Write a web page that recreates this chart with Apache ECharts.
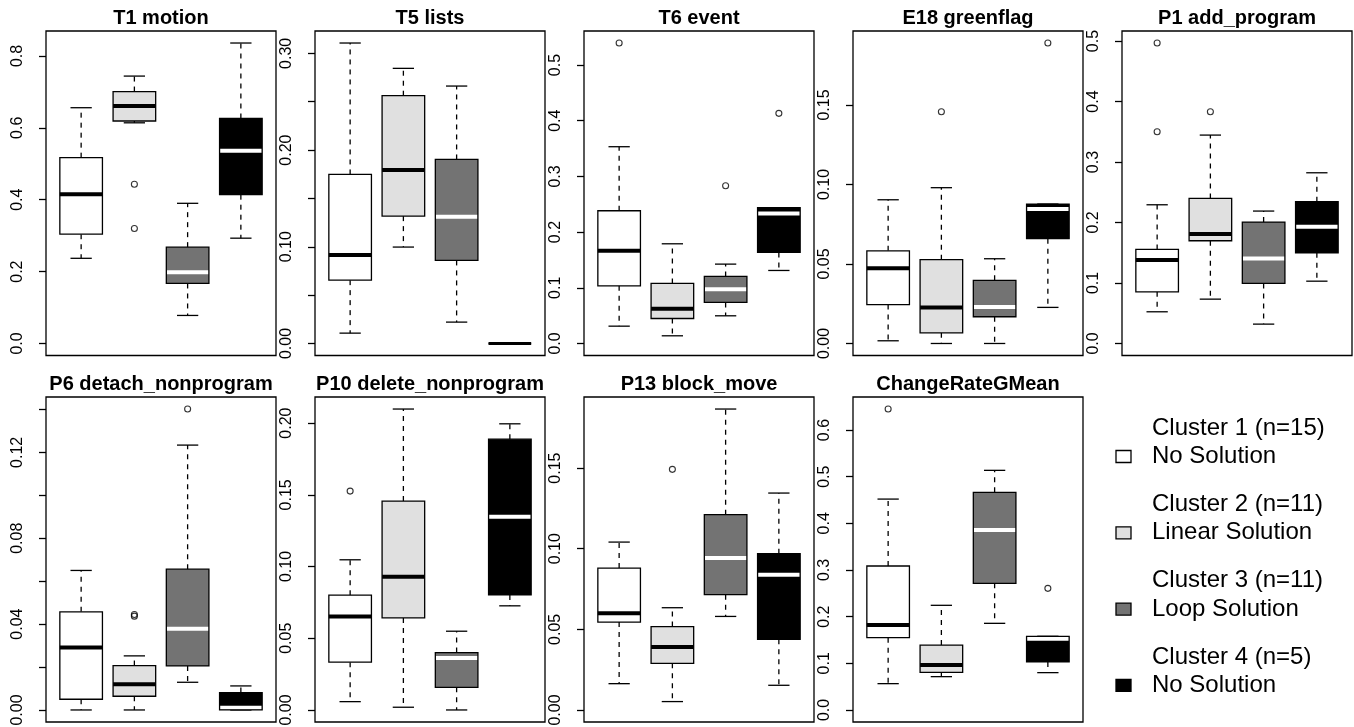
<!DOCTYPE html>
<html>
<head>
<meta charset="utf-8">
<script src="https://cdn.jsdelivr.net/npm/echarts@6/dist/echarts.min.js"></script>
<style>
html,body{margin:0;padding:0;background:#fff;}
#chart{width:1354px;height:727px;}
</style>
</head>
<body>
<div id="chart"></div>
<script>
// ---------- data ----------
const clusterNames = ['Cluster 1 (n=15)', 'Cluster 2 (n=11)', 'Cluster 3 (n=11)', 'Cluster 4 (n=5)'];
const clusterSolutions = ['No Solution', 'Linear Solution', 'Loop Solution', 'No Solution'];
const panelTitles = ['T1 motion', 'T5 lists', 'T6 event', 'E18 greenflag', 'P1 add_program',
  'P6 detach_nonprogram', 'P10 delete_nonprogram', 'P13 block_move', 'ChangeRateGMean'];

// each box: [lower whisker, Q1, median, Q3, upper whisker]; outliers: [cluster, value]
const t1Motion = [[0.237,0.304,0.415,0.517,0.656],[0.614,0.619,0.661,0.701,0.744],[0.078,0.167,0.198,0.268,0.390],[0.293,0.414,0.536,0.626,0.836]];
const t1MotionOut = [[2,0.443],[2,0.320]];
const t1MotionTicks = [0,0.2,0.4,0.6,0.8];
const t1MotionLabels = ['0.0','0.2','0.4','0.6','0.8'];

const t5Lists = [[0.0107,0.0655,0.0914,0.1748,0.3107],[0.0997,0.1317,0.1793,0.2562,0.2845],[0.0221,0.0859,0.1310,0.1903,0.2662],[0,0,0,0,0]];
const t5ListsOut = [];
const t5ListsTicks = [0,0.05,0.10,0.15,0.20,0.25,0.30];
const t5ListsLabels = ['0.00','0.10','0.20','0.30'];

const t6Event = [[0.0311,0.1036,0.1665,0.2383,0.3533],[0.0138,0.0449,0.0623,0.1078,0.179],[0.0497,0.0737,0.0976,0.1204,0.1425],[0.1311,0.1635,0.2335,0.2437,0.2437]];
const t6EventOut = [[1,0.5395],[3,0.2832],[4,0.4132]];
const t6EventTicks = [0,0.1,0.2,0.3,0.4,0.5];
const t6EventLabels = ['0.0','0.1','0.2','0.3','0.4','0.5'];

const e18Greenflag = [[0.0017,0.0245,0.0474,0.0583,0.0904],[0,0.0067,0.0227,0.0527,0.098],[0,0.0168,0.0229,0.0397,0.0533],[0.0227,0.0659,0.0846,0.0877,0.0877]];
const e18GreenflagOut = [[2,0.1458],[4,0.189]];
const e18GreenflagTicks = [0,0.05,0.10,0.15];
const e18GreenflagLabels = ['0.00','0.05','0.10','0.15'];

const p1AddProgram = [[0.0524,0.0854,0.1378,0.1555,0.2293],[0.0733,0.1698,0.1808,0.2398,0.3445],[0.032,0.0992,0.1406,0.2007,0.2189],[0.103,0.150,0.1929,0.2343,0.2822]];
const p1AddProgramOut = [[1,0.4967],[1,0.350],[2,0.3831]];
const p1AddProgramTicks = [0,0.1,0.2,0.3,0.4,0.5];
const p1AddProgramLabels = ['0.0','0.1','0.2','0.3','0.4','0.5'];

const p6Detach = [[0,0.005,0.0291,0.0457,0.065],[0,0.0064,0.012,0.0207,0.0252],[0.0129,0.0205,0.0378,0.0656,0.1234],[0,0,0.001,0.0081,0.0112]];
const p6DetachOut = [[2,0.0445],[2,0.0437],[3,0.1402]];
const p6DetachTicks = [0,0.02,0.04,0.06,0.08,0.10,0.12,0.14];
const p6DetachLabels = ['0.00','0.04','0.08','0.12'];

const p10Delete = [[0.0058,0.0333,0.0651,0.080,0.1047],[0.0019,0.0642,0.0928,0.1456,0.2098],[0,0.0158,0.0363,0.040,0.0549],[0.0726,0.0802,0.1347,0.1888,0.1995]];
const p10DeleteOut = [[1,0.1526]];
const p10DeleteTicks = [0,0.05,0.10,0.15,0.20];
const p10DeleteLabels = ['0.00','0.05','0.10','0.15','0.20'];

const p13BlockMove = [[0.0163,0.0545,0.0599,0.088,0.1041],[0.0052,0.0289,0.039,0.0517,0.0634],[0.058,0.0715,0.0942,0.1211,0.1866],[0.0153,0.0438,0.0839,0.0969,0.1345]];
const p13BlockMoveOut = [[2,0.1492]];
const p13BlockMoveTicks = [0,0.05,0.10,0.15];
const p13BlockMoveLabels = ['0.00','0.05','0.10','0.15'];

const changeRate = [[0.0564,0.155,0.182,0.3086,0.452],[0.0714,0.0807,0.0964,0.139,0.2243],[0.1857,0.2714,0.3857,0.4664,0.5136],[0.08,0.1029,0.1529,0.1579,0.1579]];
const changeRateOut = [[1,0.645],[4,0.2607]];
const changeRateTicks = [0,0.1,0.2,0.3,0.4,0.5,0.6];
const changeRateLabels = ['0.0','0.1','0.2','0.3','0.4','0.5','0.6'];

// ---------- styles / layout ----------
const fillColors = ['#ffffff', '#e0e0e0', '#737373', '#000000'];
const medianColors = ['#000000', '#000000', '#ffffff', '#ffffff'];
const FONT = '"Liberation Sans", Arial, Helvetica, sans-serif';

const panels = [
  [t1Motion, t1MotionOut, t1MotionTicks, t1MotionLabels],
  [t5Lists, t5ListsOut, t5ListsTicks, t5ListsLabels],
  [t6Event, t6EventOut, t6EventTicks, t6EventLabels],
  [e18Greenflag, e18GreenflagOut, e18GreenflagTicks, e18GreenflagLabels],
  [p1AddProgram, p1AddProgramOut, p1AddProgramTicks, p1AddProgramLabels],
  [p6Detach, p6DetachOut, p6DetachTicks, p6DetachLabels],
  [p10Delete, p10DeleteOut, p10DeleteTicks, p10DeleteLabels],
  [p13BlockMove, p13BlockMoveOut, p13BlockMoveTicks, p13BlockMoveLabels],
  [changeRate, changeRateOut, changeRateTicks, changeRateLabels]
];

const colLefts = [46, 315, 584, 853, 1122];
const panelW = 230;
const rowTops = [31, 397];
const panelH = [324.5, 325];
const titleY = [18.5, 384];

const grids = [], xAxes = [], yAxes = [], series = [], graphics = [];

panels.forEach((p, i) => {
  const [boxes, outs, ticks, labels] = p;
  const row = i < 5 ? 0 : 1;
  const col = i < 5 ? i : i - 5;
  const left = colLefts[col];
  const top = rowTops[row];
  let maxV = 0;
  boxes.forEach(b => { maxV = Math.max(maxV, b[4]); });
  outs.forEach(o => { maxV = Math.max(maxV, o[1]); });
  const yMin = -0.04 * maxV, yMax = 1.04 * maxV;
  const labelNums = labels.map(Number);

  grids.push({
    left: left, top: top, width: panelW, height: panelH[row],
    show: true, borderColor: '#000', borderWidth: 1.3, backgroundColor: 'transparent',
    containLabel: false, outerBoundsMode: 'none'
  });
  xAxes.push({ type: 'value', gridIndex: i, min: 0.34, max: 4.66, show: false });
  yAxes.push({
    type: 'value', gridIndex: i, min: yMin, max: yMax,
    axisLine: { show: false },
    splitLine: { show: false },
    axisTick: { show: true, inside: false, length: 7, customValues: ticks, lineStyle: { color: '#000', width: 1.3 } },
    axisLabel: {
      show: true, rotate: 90, margin: 20, customValues: labelNums,
      color: '#000', fontSize: 16, fontFamily: FONT,
      formatter: function (v) {
        for (const s of labels) { if (Math.abs(Number(s) - v) < 1e-9) return s; }
        return '';
      }
    }
  });

  series.push({
    type: 'custom', xAxisIndex: i, yAxisIndex: i, silent: true, animation: false,
    data: boxes.map((b, k) => [k + 1, b[0], b[1], b[2], b[3], b[4], k]),
    encode: { x: 0, y: [1, 2, 3, 4, 5] },
    renderItem: function (params, api) {
      const x = api.value(0);
      const k = api.value(6);
      const pLow = api.coord([x, api.value(1)]);
      const pQ1 = api.coord([x, api.value(2)]);
      const pMed = api.coord([x, api.value(3)]);
      const pQ3 = api.coord([x, api.value(4)]);
      const pHigh = api.coord([x, api.value(5)]);
      const half = api.size([0.8, 0])[0] / 2;
      const capHalf = half * 0.5;
      const cx = pMed[0];
      const h = pQ1[1] - pQ3[1];
      const lw = 1.3;
      const children = [];
      // whiskers
      children.push({ type: 'line', shape: { x1: cx, y1: pQ3[1], x2: cx, y2: pHigh[1] },
        style: { stroke: '#000', lineWidth: lw, lineDash: [5, 5] } });
      children.push({ type: 'line', shape: { x1: cx, y1: pQ1[1], x2: cx, y2: pLow[1] },
        style: { stroke: '#000', lineWidth: lw, lineDash: [5, 5] } });
      // staples
      children.push({ type: 'line', shape: { x1: cx - capHalf, y1: pHigh[1], x2: cx + capHalf, y2: pHigh[1] },
        style: { stroke: '#000', lineWidth: lw } });
      children.push({ type: 'line', shape: { x1: cx - capHalf, y1: pLow[1], x2: cx + capHalf, y2: pLow[1] },
        style: { stroke: '#000', lineWidth: lw } });
      // box fill
      children.push({ type: 'rect', shape: { x: cx - half, y: pQ3[1], width: half * 2, height: h },
        style: { fill: fillColors[k], stroke: null } });
      // median
      children.push({ type: 'line', shape: { x1: cx - half, y1: pMed[1], x2: cx + half, y2: pMed[1] },
        style: { stroke: h < 1 ? '#000' : medianColors[k], lineWidth: h < 1 ? 3 : 4 } });
      // box outline
      children.push({ type: 'rect', shape: { x: cx - half, y: pQ3[1], width: half * 2, height: h },
        style: { fill: null, stroke: '#000', lineWidth: lw } });
      return { type: 'group', children: children };
    }
  });

  series.push({
    type: 'scatter', xAxisIndex: i, yAxisIndex: i, silent: true, animation: false,
    symbol: 'circle', symbolSize: 6,
    itemStyle: { color: 'rgba(0,0,0,0)', borderColor: '#000', borderWidth: 1.1 },
    data: outs.map(o => [o[0], o[1]])
  });

  graphics.push({
    type: 'text', x: left + panelW / 2, y: titleY[row], silent: true,
    style: { text: panelTitles[i], fill: '#000', font: 'bold 20px ' + FONT, align: 'center', verticalAlign: 'middle' }
  });
});

// legend
const legTop = 428, legStep = 76.3;
clusterNames.forEach((name, k) => {
  const y1 = legTop + k * legStep;
  const y2 = y1 + 28.5;
  graphics.push({ type: 'rect', shape: { x: 1116, y: y2 - 6, width: 15, height: 12 }, silent: true,
    style: { fill: fillColors[k], stroke: '#000', lineWidth: 1.3 } });
  graphics.push({ type: 'text', x: 1152, y: y1, silent: true,
    style: { text: name, fill: '#000', font: '24px ' + FONT, align: 'left', verticalAlign: 'middle' } });
  graphics.push({ type: 'text', x: 1152, y: y2, silent: true,
    style: { text: clusterSolutions[k], fill: '#000', font: '24px ' + FONT, align: 'left', verticalAlign: 'middle' } });
});

const chart = echarts.init(document.getElementById('chart'), null, { renderer: 'canvas' });
chart.setOption({
  backgroundColor: '#fff',
  animation: false,
  grid: grids,
  xAxis: xAxes,
  yAxis: yAxes,
  series: series,
  graphic: graphics
});
</script>
</body>
</html>
